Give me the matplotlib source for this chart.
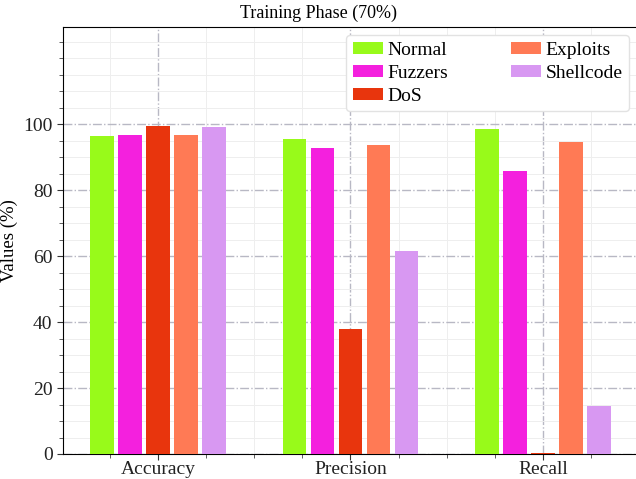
import matplotlib.pyplot as plt
import numpy as np
from matplotlib.font_manager import FontProperties
from matplotlib.ticker import MultipleLocator

plt.rcParams["font.family"] = ["Liberation Serif", "DejaVu Serif"]

metrics = ["Accuracy", "Precision", "Recall"]
classes = ["Normal", "Fuzzers", "DoS", "Exploits", "Shellcode"]
normal = [96.4, 95.4, 98.4]
fuzzers = [96.8, 92.8, 85.9]
dos = [99.4, 37.8, 0.3]
exploits = [96.8, 93.7, 94.6]
shellcode = [99.0, 61.4, 14.4]
colors = ["#98fa1a", "#f420de", "#e8350d", "#ff7a55", "#d898f2"]

series = [normal, fuzzers, dos, exploits, shellcode]

W, H = 636, 479
fig = plt.figure(figsize=(W / 100, H / 100), dpi=100)
# plot area runs slightly past the right edge of the canvas
ax = fig.add_axes([63 / W, 25 / H, 578 / W, 427 / H])

x = np.arange(len(metrics))
step = 0.1455
width = 0.124
for i, (name, vals) in enumerate(zip(classes, series)):
    ax.bar(x + (i - 2) * step, vals, width, color=colors[i], label=name,
           linewidth=0, zorder=3)

ax.set_xlim(-0.494, 2.51)
ax.set_ylim(0, 129.4)
ax.set_xticks(x)
ax.set_xticklabels(metrics)
ax.xaxis.set_minor_locator(MultipleLocator(0.25))
ax.set_yticks([0, 20, 40, 60, 80, 100])
ax.yaxis.set_minor_locator(MultipleLocator(5))
ax.tick_params(axis="x", which="major", labelsize=14, direction="out",
               length=4, pad=1, colors="#333333", labelcolor="#222222")
ax.tick_params(axis="y", which="major", labelsize=14, direction="out",
               length=4.5, pad=3, colors="#333333", labelcolor="#222222")
ax.tick_params(axis="both", which="minor", direction="out", length=3,
               color="#444444")

ax.grid(True, which="major", linestyle="-.", color="#b8b8c4", linewidth=1.0, zorder=0)
ax.grid(True, which="minor", linestyle="-", color="#eeeeee", linewidth=0.7, zorder=0)

ax.set_ylabel("Values (%)", fontsize=13.5, labelpad=4)
fig.text(0.5, 1 - 13 / H, "Training Phase (70%)", fontsize=13,
         ha="center", va="center")

leg_font = FontProperties(family=["Liberation Serif"], size=14)
ax.legend(loc="upper left", bbox_to_anchor=((346 - 63) / 578, (444 - 25) / 427),
          ncol=2, frameon=True, prop=leg_font,
          edgecolor="#e2e2e2", framealpha=1.0, fancybox=True,
          handlelength=1.55, handleheight=0.6, labelspacing=0.3,
          columnspacing=3.25, borderpad=0.35, handletextpad=0.22,
          borderaxespad=0.0)

fig.savefig("out.png", dpi=100)
